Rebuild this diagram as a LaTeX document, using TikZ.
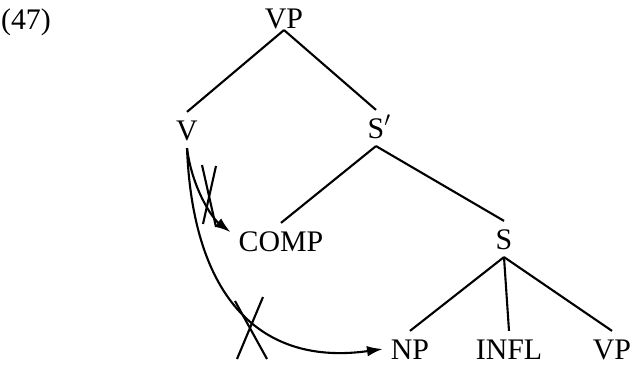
\documentclass[tikz,border=0pt]{standalone}
\usepackage{fontspec}
\setmainfont{Liberation Serif}
\usetikzlibrary{arrows.meta}
\begin{document}
\begin{tikzpicture}[x=0.02cm,y=-0.02cm,line width=1.2pt,
		cat/.style={anchor=base,inner sep=4pt,text height=11.4pt,text depth=0pt},
		mov/.style={-{Latex[length=9pt,width=6pt]}},
		font=\fontsize{17}{20}\selectfont]
		
		\useasboundingbox (0,0) rectangle (633,365);
		
		\node[anchor=base] (num) at (26,30) {(47)};
		
		\node[cat,inner sep=0pt] (vp) at (284,29) {VP};
		\node[cat] (v) at (187,140) {V};
		\node[cat] (sbar) at (376,138) {S\rlap{$'$}};
		\node[cat] (comp) at (281,251) {COMP};
		\node[cat] (s) at (504,249) {S};
		\node[cat] (np) at (410,359) {NP};
		\node[cat] (infl) at (509,359) {INFL};
		\node[cat] (vpb) at (612,359) {VP};
		
		\draw (vp.south) -- (v.north);
		\draw (vp.south) -- (sbar.north);
		\draw (sbar.south) -- (comp.north);
		\draw (sbar.south) -- (s.north);
		\draw (s.south) -- (np.north);
		\draw (s.south) -- (infl.north);
		\draw (s.south) -- (vpb.north);
		
		\draw[mov] (v.south) .. controls (192,188) and (212,218) .. ([yshift=5pt]comp.west);
		\draw[mov] (v.south) .. controls (193,300) and (262,366) .. (np.west);
		
		\draw (202,165) -- (216,227);
		\draw (216,166) -- (203,224);
		\draw (235,301) -- (267,359);
		\draw (263,297) -- (237,359);
	\end{tikzpicture}
\end{document}
